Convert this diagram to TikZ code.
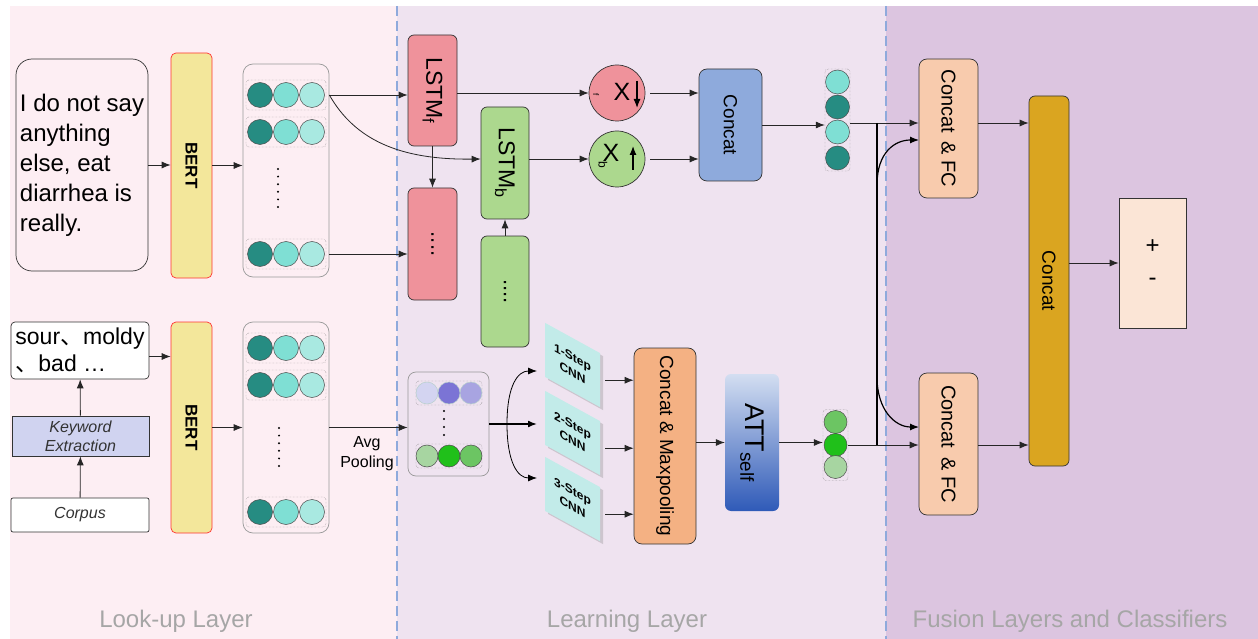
\documentclass[tikz,border=0pt]{standalone}
\usepackage{fontspec}
\setmainfont{Liberation Sans}
\newfontfamily\cjk{Noto Sans CJK SC}
\usepackage{graphicx}
\usepackage{xcolor}
\usepackage{tikz}
\usetikzlibrary{arrows.meta}
\usetikzlibrary{shadows}
\usetikzlibrary{positioning}
\usetikzlibrary{calc}
\definecolor{lookupbg}{HTML}{FDEEF3}
\definecolor{learnbg}{HTML}{EFE3F0}
\definecolor{fusionbg}{HTML}{DCC5E0}
\definecolor{divider}{HTML}{8FAADC}
\definecolor{bertyellow}{HTML}{F3E79B}
\definecolor{tealdark}{HTML}{268C82}
\definecolor{tealmid}{HTML}{7FDFD4}
\definecolor{teallight}{HTML}{A9E9E1}
\definecolor{lstmpink}{HTML}{EF929B}
\definecolor{lstmgreen}{HTML}{ACD88E}
\definecolor{concatblue}{HTML}{8EAADC}
\definecolor{cnncyan}{HTML}{C2EBE9}
\definecolor{maxorange}{HTML}{F4B183}
\definecolor{attlight}{HTML}{D3DEF1}
\definecolor{attdark}{HTML}{2F5AB8}
\definecolor{fcpeach}{HTML}{F8CBAD}
\definecolor{gold}{HTML}{DAA520}
\definecolor{outpeach}{HTML}{FBE5D6}
\definecolor{kwblue}{HTML}{D0D3F0}
\definecolor{purlight}{HTML}{D3D4F1}
\definecolor{purmid}{HTML}{7B74D5}
\definecolor{pursoft}{HTML}{A8A4E1}
\definecolor{grnlight}{HTML}{A7D5A1}
\definecolor{grnbright}{HTML}{20C01A}
\definecolor{grnmid}{HTML}{6CC563}
\definecolor{footgray}{HTML}{A6A6A6}
\newcommand\fsz[2]{\fontsize{#1}{#2}\selectfont}
\tikzstyle{block}=[draw=black!80,rounded corners=6pt,inner sep=0pt,align=center,line width=0.7pt]
\tikzstyle{dot}=[circle,draw=black!70,line width=0.5pt,inner sep=0pt,minimum size=25pt]
\tikzstyle{rowbox}=[draw=black!55,densely dotted,rounded corners=3pt,inner sep=0pt,minimum width=80pt,minimum height=30pt]
\tikzstyle{embbox}=[draw=black!40,rounded corners=10pt,inner sep=0pt,line width=0.7pt]
\tikzstyle{edge}=[draw,->,line width=0.8pt,black!85]
\tikzstyle{cnn}=[fill=cnncyan,minimum width=55pt,minimum height=54pt,inner sep=0pt,yslant=-0.55,transform shape,align=center,font=\bfseries\fsz{12}{16},drop shadow={opacity=0.3,shadow xshift=3pt,shadow yshift=-3pt}]
\tikzstyle{footer}=[text=footgray,font=\fsz{24}{28}]

\begin{document}
\begin{tikzpicture}[x=1pt,y=-1pt,>={Latex[length=9pt,width=7pt]}]
\useasboundingbox (0,0) rectangle (1258,639);

 %panels
 \fill[lookupbg] (10,6) rectangle (397,639);
 \fill[learnbg] (397,6) rectangle (886,639);
 \fill[fusionbg] (886,6) rectangle (1258,639);
 \foreach \x in {397,886}
   \draw[divider,line width=1.4pt,dash pattern=on 10pt off 5pt] (\x,6) -- (\x,639);

 \node[footer] (labA) at (176,621) {Look-up Layer};
 \node[footer] (labB) at (627,621) {Learning Layer};
 \node[footer] (labC) at (1070,621) {Fusion Layers and Classifiers};

 %look-up, sentence branch
 \node[block,rounded corners=16pt,minimum width=132pt,minimum height=212pt,align=left,font=\fsz{24}{30}] (sent) at (82,165)
   {I do not say\\anything\\else, eat\\diarrhea is\\really.};
 \node[block,draw=red!80,fill=bertyellow,rounded corners=5pt,minimum width=41pt,minimum height=225pt,font=\bfseries\fsz{17}{20}] (bertA) at (191.5,165.5) {\rotatebox{-90}{BERT}};
 \node[embbox,minimum width=86pt,minimum height=213pt] (embA) at (286,170.5) {};

 \foreach \y/\name in {95/ea,132/eb,254/ec}{
   \node[rowbox] (\name) at (286,\y) {};
   \foreach \x/\c/\i in {260/tealdark/1,286/tealmid/2,312/teallight/3}
     \node[dot,fill=\c] (\name\i) at (\x,\y) {};
 }
 \foreach \k in {0,...,5}
   \fill (278,169+\k*7.6) circle (1.1pt);

 %look-up, keyword branch
 \node[block,fill=white,rounded corners=4pt,minimum width=138pt,minimum height=57pt,align=left,font=\fsz{23}{27}] (kw) at (80,350.5)
   {sour{\cjk 、}moldy\\{\cjk 、}bad …};
 \node[draw=black!80,line width=0.7pt,fill=kwblue,minimum width=137pt,minimum height=40pt,align=center,text=black!80,font=\itshape\fsz{16}{19}] (kext) at (80.5,436) {Keyword\\Extraction};
 \node[block,fill=white,rounded corners=2pt,minimum width=138pt,minimum height=34pt,text=black!80,font=\itshape\fsz{16}{19}] (corpus) at (80,515) {Corpus};
 \node[block,draw=red!80,fill=bertyellow,rounded corners=5pt,minimum width=41pt,minimum height=211pt,font=\bfseries\fsz{17}{20}] (bertB) at (191.5,427.5) {\rotatebox{-90}{BERT}};
 \node[embbox,minimum width=86pt,minimum height=211pt] (embB) at (286,427.5) {};

 \foreach \y/\name in {348/eu,385/ev,512/ew}{
   \node[rowbox] (\name) at (286,\y) {};
   \foreach \x/\c/\i in {260/tealdark/1,286/tealmid/2,312/teallight/3}
     \node[dot,fill=\c] (\name\i) at (\x,\y) {};
 }
 \foreach \k in {0,...,5}
   \fill (279,428+\k*7.6) circle (1.1pt);

 \node[font=\fsz{16}{20},align=center] (avg) at (367,454) {Avg\\Pooling};

 \foreach \source/\dest in {corpus/kext,kext/kw}
   \path[edge] (\source) -- (\dest);
 \path[edge] (sent.east) -- (sent.east -| bertA.west);
 \path[edge] (bertA.east) -- (bertA.east -| embA.west);
 \path[edge] ([yshift=-6pt]kw.east) -- ([yshift=-6pt]kw.east -| bertB.west);
 \path[edge] (bertB.east) -- (bertB.east -| embB.west);

 %learning, upper
 \node[block,fill=lstmpink,minimum width=49pt,minimum height=111pt,font=\fsz{23}{25}] (lstmf) at (432.5,90.5) {\rotatebox{-90}{LSTM\textsubscript{f}}};
 \node[block,fill=lstmpink,minimum width=49pt,minimum height=112pt,font=\fsz{22}{24}] (fdots) at (432.5,244) {\rotatebox{-90}{....}};
 \node[block,fill=lstmgreen,minimum width=48pt,minimum height=112pt,font=\fsz{23}{25}] (lstmb) at (505,163) {\rotatebox{-90}{LSTM\textsubscript{b}}};
 \node[block,fill=lstmgreen,minimum width=48pt,minimum height=111pt,font=\fsz{22}{24}] (bdots) at (505,291.5) {\rotatebox{-90}{....}};

 \node[circle,draw=black!80,line width=0.7pt,fill=lstmpink,minimum size=56pt,inner sep=0pt] (xf) at (617,93) {};
 \node[circle,draw=black!80,line width=0.7pt,fill=lstmgreen,minimum size=56pt,inner sep=0pt] (xb) at (617,159) {};
 \node[font=\fsz{25}{25}] (xfX) at ($(xf)+(5,-1)$) {X};
 \node[font=\fsz{8}{9}] (xfS) at ($(xf)+(-21,2)$) {\rotatebox{-90}{f}};
 \draw[->,line width=1.2pt] ($(xf)+(20,-12)$) -- ($(xf)+(20,15)$);
 \node[font=\fsz{25}{25}] (xbX) at ($(xb)+(-6,-6)$) {X};
 \node[font=\fsz{12}{13}] (xbS) at ($(xb)+(-14,6)$) {\rotatebox{-90}{b}};
 \draw[->,line width=1.2pt] ($(xb)+(16,11)$) -- ($(xb)+(16,-13)$);

 \node[block,fill=concatblue,rounded corners=8pt,minimum width=63pt,minimum height=112pt,font=\fsz{19}{21}] (concat) at (730.5,125) {\rotatebox{-90}{Concat}};

 \node[rowbox,minimum width=25pt,minimum height=102pt] (vecA) at (837.5,120) {};
 \foreach \y/\c/\i in {82/tealmid/1,107/tealdark/2,132/tealmid/3,158/tealdark/4}
   \node[dot,fill=\c,minimum size=24pt] (vecA\i) at (837.5,\y) {};

 \path[edge] (embA.east |- ea) -- (lstmf.west |- ea);
 \path[edge] (embA.east |- ec) -- (fdots.west |- ec);
 \draw[->,line width=0.8pt,black!85] (embA.east |- ea) .. controls (355,140) and (400,160) .. (lstmb.west |- xb);
 \path[edge] (lstmf.south) -- (fdots.north);
 \path[edge] (bdots.north) -- (lstmb.south);
 \path[edge] (lstmf.east |- xf) -- (xf.west);
 \path[edge] (lstmb.east |- xb) -- (xb.west);
 \path[edge,shorten <=5pt] (xf.east) -- (xf.east -| concat.west);
 \path[edge,shorten <=5pt] (xb.east) -- (xb.east -| concat.west);
 \path[edge] (concat.east) -- (concat.east -| vecA.west);

 %learning, lower
 \node[embbox,rounded corners=8pt,minimum width=81pt,minimum height=104pt] (pool) at (448.5,424) {};
 \node[rowbox,minimum width=66pt,minimum height=24pt] (pa) at (449,393) {};
 \foreach \x/\c/\i in {427/purlight/1,449/purmid/2,471/pursoft/3}
   \node[dot,draw=tealmid!60!black!40,fill=\c,minimum size=22pt] (pa\i) at (\x,393) {};
 \node[rowbox,minimum width=66pt,minimum height=24pt] (pb) at (449,456) {};
 \foreach \x/\c/\i in {427/grnlight/1,449/grnbright/2,471/grnmid/3}
   \node[dot,fill=\c,minimum size=22pt] (pb\i) at (\x,456) {};
 \foreach \k in {0,...,3}
   \fill (444,411+\k*8) circle (1.1pt);

 \node[cnn] (cnnA) at (572.5,365) {1-Step\\CNN};
 \node[cnn] (cnnB) at (572.5,433) {2-Step\\CNN};
 \node[cnn] (cnnC) at (572.5,499) {3-Step\\CNN};

 \node[block,fill=maxorange,rounded corners=8pt,minimum width=62pt,minimum height=196pt,font=\fsz{19}{21}] (maxp) at (665,446) {\rotatebox{-90}{Concat \& Maxpooling}};
 \node[rounded corners=6pt,top color=attlight,bottom color=attdark,minimum width=54pt,minimum height=137pt,inner sep=0pt,font=\fsz{27}{29}] (att) at (752,442.5) {\rotatebox{-90}{ATT\textsubscript{self}}};

 \node[rowbox,minimum width=25pt,minimum height=71pt] (vecB) at (835.5,445) {};
 \foreach \y/\c/\i in {422/grnmid/1,445/grnbright/2,467/grnlight/3}
   \node[dot,fill=\c,minimum size=23pt] (vecB\i) at (835.5,\y) {};

 \coordinate (split) at (507,424);
 \coordinate (cinA) at (537,371);
 \coordinate (cinC) at (537,478);
 \path[edge] (embB.east) -- (embB.east -| pool.west);
 \draw[->,line width=1.6pt] (pool.east) -- (split -| cinA);
 \draw[->,line width=0.8pt] (split) .. controls (507,385) and (518,371) .. (cinA);
 \draw[->,line width=0.8pt] (split) .. controls (507,463) and (518,478) .. (cinC);
 \foreach \source in {cnnA,cnnB,cnnC}
   \path[edge,shorten <=5pt] (\source.east) -- (\source.east -| maxp.west);
 \path[edge] (maxp.east |- att.west) -- (att.west);
 \path[edge] (att.east) -- (att.east -| vecB.west);

 %fusion
 \node[block,fill=fcpeach,rounded corners=8pt,minimum width=59pt,minimum height=139pt,font=\fsz{20}{22}] (fcA) at (948.5,128.5) {\rotatebox{-90}{Concat \,\& FC}};
 \node[block,fill=fcpeach,rounded corners=8pt,minimum width=59pt,minimum height=142pt,font=\fsz{20}{22}] (fcB) at (948.5,444) {\rotatebox{-90}{Concat \,\& FC}};
 \node[block,fill=gold,rounded corners=6pt,minimum width=40pt,minimum height=370pt,font=\fsz{19}{21}] (gold) at (1049,281) {\rotatebox{-90}{Concat}};
 \node[draw=black!80,line width=0.7pt,fill=outpeach,minimum width=67pt,minimum height=130pt,align=center,font=\fsz{24}{32}] (out) at (1152.5,263) {+\\-};

 \coordinate (busT) at (877,123);
 \coordinate (busB) at (877,445);
 \coordinate (busU) at (877,185);
 \coordinate (busD) at (877,377);
 \coordinate (fcTin) at (919,140);
 \coordinate (fcBin) at (919,427);
 \path[edge] (vecA.east |- busT) -- (fcA.west |- busT);
 \path[edge] (vecB.east |- busB) -- (fcB.west |- busB);
 \draw[line width=1.2pt] (busT) -- (busB);
 \draw[->,line width=1.2pt] (busU) .. controls (877,152) and (895,140) .. (fcTin);
 \draw[->,line width=1.2pt] (busD) .. controls (877,410) and (895,427) .. (fcBin);
 \path[edge] (fcA.east |- busT) -- (gold.west |- busT);
 \path[edge] (fcB.east |- busB) -- (gold.west |- busB);
 \path[edge] (gold.east |- out) -- (out.west);

\end{tikzpicture}
\end{document}
